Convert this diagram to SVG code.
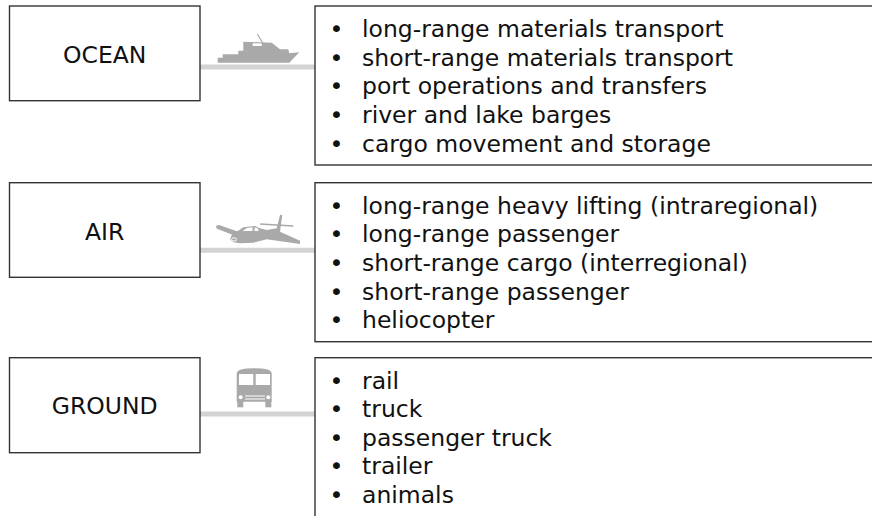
<svg xmlns="http://www.w3.org/2000/svg" width="872" height="516" viewBox="0 0 872 516">
<style>
.box{fill:#fff;stroke:#333;stroke-width:1.4}
.lbl{font-family:"DejaVu Sans",sans-serif;font-size:23.5px;fill:#111;text-anchor:middle}
.item{font-family:"DejaVu Sans",sans-serif;font-size:23.5px;fill:#111}
.bul{font-family:"DejaVu Sans",sans-serif;font-size:23.5px;fill:#111;text-anchor:middle}
.bar{stroke:#d3d3d3;stroke-width:5;fill:none}
.icon{fill:#a9a9a9}
.win{fill:#fff}
</style>
<rect width="872" height="516" fill="#fff"/>
<g id="connectors">
<line class="bar" x1="200" y1="67" x2="315" y2="67"/>
<line class="bar" x1="200" y1="250.3" x2="315" y2="250.3"/>
<line class="bar" x1="200" y1="414" x2="315" y2="414"/>
</g>
<g id="ocean">
<rect class="box" x="9.5" y="6" width="190.5" height="94.7"/>
<text class="lbl" x="104.7" y="63">OCEAN</text>
</g>
<g id="ocean-list">
<rect class="box" x="315" y="6" width="570" height="159"/>
<g class="bul"><text x="336.5" y="37">•</text><text x="336.5" y="65.7">•</text><text x="336.5" y="94.4">•</text><text x="336.5" y="123.1">•</text><text x="336.5" y="151.8">•</text></g>
<text class="item" x="362" y="37">long-range materials transport</text>
<text class="item" x="362" y="65.7">short-range materials transport</text>
<text class="item" x="362" y="94.4">port operations and transfers</text>
<text class="item" x="362" y="123.1">river and lake barges</text>
<text class="item" x="362" y="151.8">cargo movement and storage</text>
</g>
<g id="ship-icon">
<polygon class="icon" points="217.7,62.7 217.7,57.7 222.7,57.7 222.7,54.3 238.3,54.3 238.3,50.7 243.3,50.7 243.3,41.7 271.7,42.7 280,49.3 288.3,49.3 289.3,53.3 299.3,52.3 289.3,62.7"/>
<rect class="win" x="252.7" y="43.3" width="9" height="2.7"/>
<line x1="257.3" y1="34" x2="263.3" y2="44" stroke="#a9a9a9" stroke-width="1.2"/>
</g>
<g id="air">
<rect class="box" x="9.5" y="182.7" width="190.5" height="94.6"/>
<text class="lbl" x="104.7" y="239.5">AIR</text>
</g>
<g id="air-list">
<rect class="box" x="315" y="182.7" width="570" height="159"/>
<g class="bul"><text x="336.5" y="213.5">•</text><text x="336.5" y="242.2">•</text><text x="336.5" y="270.9">•</text><text x="336.5" y="299.6">•</text><text x="336.5" y="328.3">•</text></g>
<text class="item" x="362" y="213.5">long-range heavy lifting (intraregional)</text>
<text class="item" x="362" y="242.2">long-range passenger</text>
<text class="item" x="362" y="270.9">short-range cargo (interregional)</text>
<text class="item" x="362" y="299.6">short-range passenger</text>
<text class="item" x="362" y="328.3">heliocopter</text>
</g>
<g id="plane-icon">
<polygon class="icon" points="216,225.7 219,225 242,233 238,237 216.5,228.5"/>
<polygon class="icon" points="230,239.3 231.7,235 236.7,231.7 243.3,227.3 255,226 260,228.3 266.7,230 276.7,228.3 280,215 282.3,215 280,231.7 300,240.7 300,244 266.7,239.3 253.3,242.7 240,243.3 233.3,242.3"/>
<line x1="260" y1="224" x2="293.3" y2="226" stroke="#a9a9a9" stroke-width="1.3"/>
<polygon class="win" points="242.5,231 247,228 252.5,227.3 252.5,231"/>
<polygon class="win" points="254.5,227.5 258,228.3 258.5,231 254.5,231"/>
<ellipse cx="234" cy="239.5" rx="2.6" ry="1.6" fill="none" stroke="#fff" stroke-width="1"/>
</g>
<g id="ground">
<rect class="box" x="9.5" y="357.7" width="190.5" height="95"/>
<text class="lbl" x="104.7" y="414">GROUND</text>
</g>
<g id="ground-list">
<rect class="box" x="315" y="357.7" width="570" height="180"/>
<g class="bul"><text x="336.5" y="388.5">•</text><text x="336.5" y="417">•</text><text x="336.5" y="445.5">•</text><text x="336.5" y="474">•</text><text x="336.5" y="502.5">•</text></g>
<text class="item" x="362" y="388.5">rail</text>
<text class="item" x="362" y="417">truck</text>
<text class="item" x="362" y="445.5">passenger truck</text>
<text class="item" x="362" y="474">trailer</text>
<text class="item" x="362" y="502.5">animals</text>
</g>
<g id="bus-icon">
<path class="icon" d="M236.7,401.7 V373.5 Q236.7,368.3 254.2,368.3 Q271.7,368.3 271.7,373.5 V401.7 Z"/>
<rect class="icon" x="237.3" y="400" width="6" height="7.3"/>
<rect class="icon" x="265.3" y="400" width="6" height="7.3"/>
<rect class="win" x="239" y="374" width="14.3" height="11"/>
<rect class="win" x="255.7" y="374" width="14.3" height="11"/>
<circle class="win" cx="240.7" cy="397.3" r="2"/>
<circle class="win" cx="268.3" cy="397.3" r="2"/>
<line x1="245" y1="396" x2="265" y2="396" stroke="#fff" stroke-width="1"/>
<line x1="245" y1="399" x2="265" y2="399" stroke="#fff" stroke-width="1"/>
</g>
</svg>
